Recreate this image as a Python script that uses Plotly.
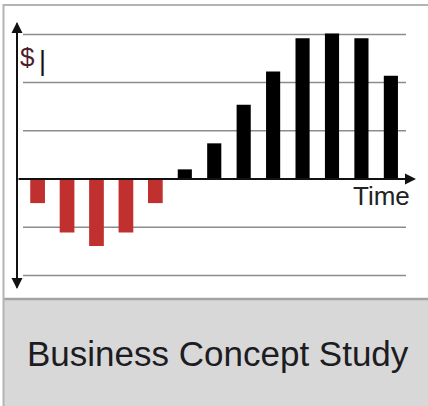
import plotly.graph_objects as go

# ---- data (units = grid steps of $) ----
periods = list(range(13))
loss_periods = [0, 1, 2, 3, 4]
loss_values = [-0.50, -1.11, -1.39, -1.11, -0.50]
gain_periods = [5, 6, 7, 8, 9, 10, 11, 12]
gain_values = [0.20, 0.74, 1.54, 2.23, 2.92, 3.02, 2.92, 2.14]
grid_levels = [-2, -1, 1, 2, 3]
y_label = "$"
x_label = "Time"
title_text = "Business Concept Study"

W, H = 428, 406
# pixel -> data mapping helpers for layout ranges
X0_PX, X_STEP = 37.6, 29.44
Y0_PX, Y_STEP = 179.0, 48.2


def xd(px):
    return (px - X0_PX) / X_STEP


def yd(py):
    return (Y0_PX - py) / Y_STEP


fig = go.Figure()
fig.add_trace(go.Bar(x=loss_periods, y=loss_values, width=0.5,
                     marker=dict(color="#c0302e", line=dict(width=0))))
fig.add_trace(go.Bar(x=gain_periods, y=gain_values, width=0.48,
                     marker=dict(color="#000000", line=dict(width=0))))

shapes = []
# bottom gray band
shapes.append(dict(type="rect", xref="paper", yref="paper", x0=3.5 / W, x1=1, y0=0, y1=1 - 299 / H,
                   fillcolor="#d8d8d8", line=dict(width=0), layer="below"))
shapes.append(dict(type="line", xref="paper", yref="paper", x0=3.5 / W, x1=1, y0=1 - 299 / H, y1=1 - 299 / H,
                   line=dict(color="#a4a4a4", width=2.5)))
# outer frame
shapes.append(dict(type="rect", xref="paper", yref="paper", x0=3.5 / W, x1=1 + 2 / W, y0=-0.01, y1=1 - 5 / H,
                   line=dict(color="#b4b4b4", width=2), fillcolor="rgba(0,0,0,0)"))
# grid lines
for g in grid_levels:
    shapes.append(dict(type="line", xref="x", yref="y", x0=xd(23), x1=xd(406), y0=g, y1=g,
                       line=dict(color="#8c8c8c", width=1.5), layer="below"))
fig.update_layout(shapes=shapes)

ann = []
axis_x = xd(17)
top_tip, bottom_tip = yd(22), yd(289)
# vertical double arrow (two overlapping full-length arrows)
for tip, tail in ((top_tip, bottom_tip), (bottom_tip, top_tip)):
    ann.append(dict(x=axis_x, y=tip, ax=axis_x, ay=tail, xref="x", yref="y", axref="x", ayref="y",
                    text="", showarrow=True, arrowhead=2, arrowsize=1.1, arrowwidth=2, arrowcolor="#111"))
# horizontal time arrow along zero
ann.append(dict(x=xd(416), y=0, ax=axis_x, ay=0, xref="x", yref="y", axref="x", ayref="y",
                text="", showarrow=True, arrowhead=2, arrowsize=1.1, arrowwidth=2, arrowcolor="#111"))
# labels
ann.append(dict(x=28 / W, y=1 - 57 / H, xref="paper", yref="paper", text=y_label, showarrow=False,
                font=dict(family="Liberation Sans", size=26, color="#4e1c2a"), xanchor="center", yanchor="middle"))
ann.append(dict(x=42 / W, y=1 - 61 / H, xref="paper", yref="paper", text="|", showarrow=False,
                font=dict(family="Liberation Sans", size=27, color="#111"), xanchor="center", yanchor="middle"))
ann.append(dict(x=381 / W, y=1 - 196 / H, xref="paper", yref="paper", text=x_label, showarrow=False,
                font=dict(family="Liberation Sans", size=26, color="#222"), xanchor="center", yanchor="middle"))
ann.append(dict(x=217.5 / W, y=1 - 353 / H, xref="paper", yref="paper", text=title_text, showarrow=False,
                font=dict(family="Liberation Sans", size=35, color="#1c1c22"), xanchor="center", yanchor="middle"))
fig.update_layout(annotations=ann)

fig.update_layout(
    width=W, height=H, margin=dict(l=0, r=0, t=0, b=0),
    paper_bgcolor="white", plot_bgcolor="rgba(0,0,0,0)",
    showlegend=False, barmode="overlay",
    xaxis=dict(range=[xd(0), xd(W)], visible=False, fixedrange=True),
    yaxis=dict(range=[yd(H), yd(0)], visible=False, fixedrange=True),
)
fig.write_html("out.html", config={"displayModeBar": False},
               post_script="document.body.style.margin='0';document.body.style.overflow='hidden';")
